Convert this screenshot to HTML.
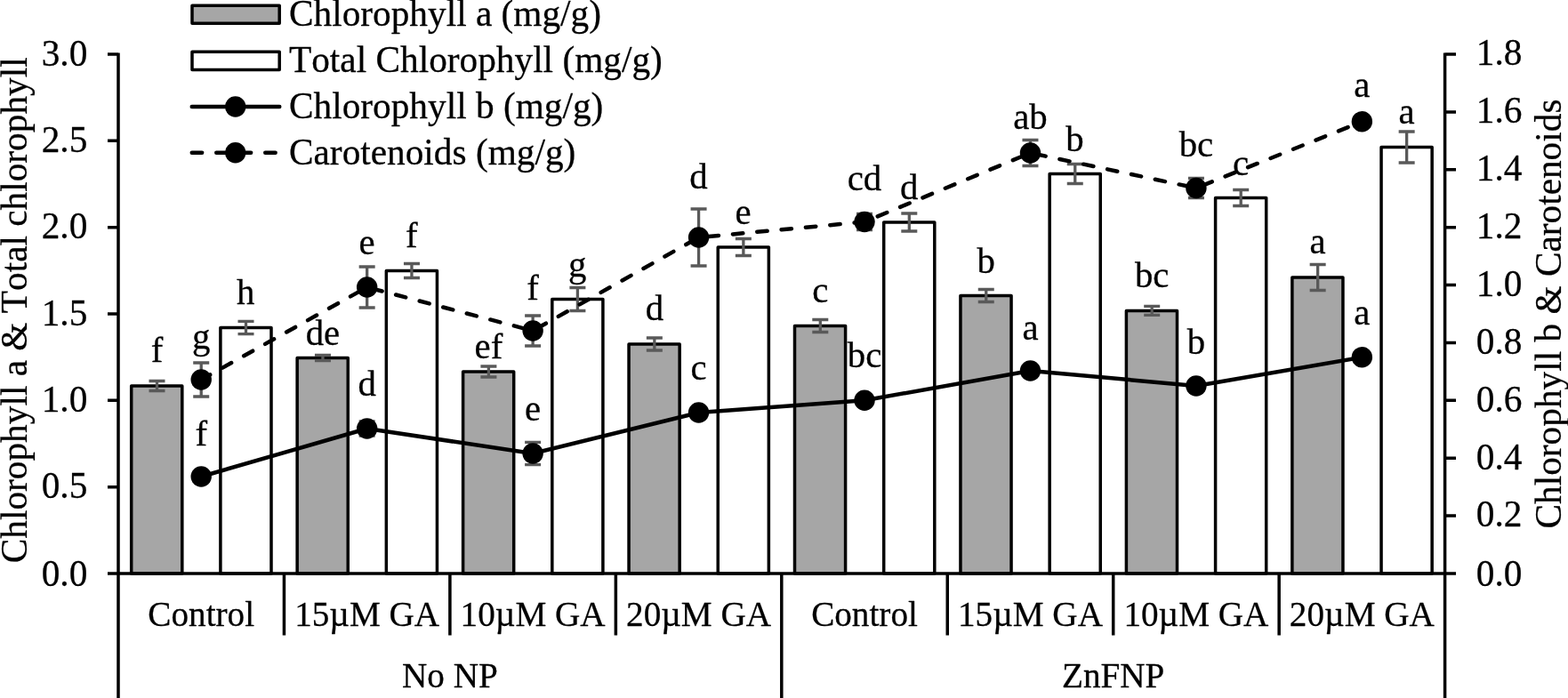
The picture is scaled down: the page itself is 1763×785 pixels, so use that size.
<!DOCTYPE html>
<html lang="en"><head><meta charset="utf-8"><title>Chlorophyll chart</title>
<style>html,body{margin:0;padding:0;background:#fff;overflow:hidden}svg{display:block}text{stroke:#000;stroke-width:0.28px;stroke-linejoin:round;font-kerning:none;font-variant-ligatures:none}</style>
</head><body>
<svg width="1763" height="785" viewBox="0 0 1763 785" font-family="'Liberation Serif', 'DejaVu Serif', serif" font-size="41.3" fill="#000">
<rect width="1763" height="785" fill="#fff"/>
<g stroke="#000" stroke-width="3.5" stroke-linejoin="round">
<rect x="147.70" y="434" width="57.10" height="211.00" fill="#a6a6a6"/>
<rect x="247.90" y="368.5" width="57.10" height="276.50" fill="#fff"/>
<rect x="334.15" y="402.5" width="57.10" height="242.50" fill="#a6a6a6"/>
<rect x="434.35" y="304.5" width="57.10" height="340.50" fill="#fff"/>
<rect x="520.60" y="418" width="57.10" height="227.00" fill="#a6a6a6"/>
<rect x="620.80" y="336.5" width="57.10" height="308.50" fill="#fff"/>
<rect x="707.05" y="387" width="57.10" height="258.00" fill="#a6a6a6"/>
<rect x="807.25" y="278" width="57.10" height="367.00" fill="#fff"/>
<rect x="893.50" y="366.5" width="57.10" height="278.50" fill="#a6a6a6"/>
<rect x="993.70" y="250" width="57.10" height="395.00" fill="#fff"/>
<rect x="1079.95" y="332.5" width="57.10" height="312.50" fill="#a6a6a6"/>
<rect x="1180.15" y="195.5" width="57.10" height="449.50" fill="#fff"/>
<rect x="1266.40" y="349.4" width="57.10" height="295.60" fill="#a6a6a6"/>
<rect x="1366.60" y="222.5" width="57.10" height="422.50" fill="#fff"/>
<rect x="1452.85" y="312" width="57.10" height="333.00" fill="#a6a6a6"/>
<rect x="1553.05" y="165.5" width="57.10" height="479.50" fill="#fff"/>
</g>
<path d="M176.50 428.50V439.50M167.50 428.50H185.50M167.50 439.50H185.50M276.50 361.30V375.70M267.50 361.30H285.50M267.50 375.70H285.50M226.22 408.00V446.00M217.22 408.00H235.22M217.22 446.00H235.22M362.95 399.50V405.50M353.95 399.50H371.95M353.95 405.50H371.95M462.95 296.50V312.50M453.95 296.50H471.95M453.95 312.50H471.95M412.67 474.00V490.00M403.67 474.00H421.67M403.67 490.00H421.67M412.67 300.00V346.00M403.67 300.00H421.67M403.67 346.00H421.67M549.40 412.00V424.00M540.40 412.00H558.40M540.40 424.00H558.40M649.40 323.50V349.50M640.40 323.50H658.40M640.40 349.50H658.40M599.12 497.40V522.60M590.12 497.40H608.12M590.12 522.60H608.12M599.12 355.00V389.00M590.12 355.00H608.12M590.12 389.00H608.12M735.85 380.00V394.00M726.85 380.00H744.85M726.85 394.00H744.85M835.85 268.50V287.50M826.85 268.50H844.85M826.85 287.50H844.85M785.57 235.00V299.00M776.57 235.00H794.57M776.57 299.00H794.57M922.30 359.50V373.50M913.30 359.50H931.30M913.30 373.50H931.30M1022.30 240.00V260.00M1013.30 240.00H1031.30M1013.30 260.00H1031.30M972.02 240.50V258.50M963.02 240.50H981.02M963.02 258.50H981.02M1108.75 325.50V339.50M1099.75 325.50H1117.75M1099.75 339.50H1117.75M1208.75 184.50V206.50M1199.75 184.50H1217.75M1199.75 206.50H1217.75M1158.47 157.50V186.50M1149.47 157.50H1167.47M1149.47 186.50H1167.47M1295.20 344.40V354.40M1286.20 344.40H1304.20M1286.20 354.40H1304.20M1395.20 213.50V231.50M1386.20 213.50H1404.20M1386.20 231.50H1404.20M1344.92 200.50V222.50M1335.92 200.50H1353.92M1335.92 222.50H1353.92M1481.65 297.50V326.50M1472.65 297.50H1490.65M1472.65 326.50H1490.65M1581.65 148.00V183.00M1572.65 148.00H1590.65M1572.65 183.00H1590.65" fill="none" stroke="#595959" stroke-width="3.3"/>
<polyline points="226.22,536 412.67,482 599.12,510 785.57,464 972.02,450.3 1158.47,417 1344.92,434 1531.37,401.8" fill="none" stroke="#000" stroke-width="4.5" stroke-linejoin="round" stroke-linecap="round"/>
<polyline points="226.22,427 412.67,323 599.12,372 785.57,267 972.02,249.5 1158.47,172 1344.92,211.5 1531.37,136.8" fill="none" stroke="#000" stroke-width="4.5" stroke-dasharray="11.4 16.05" stroke-linejoin="round" stroke-linecap="round"/>
<circle cx="226.22" cy="536" r="11.7"/>
<circle cx="226.22" cy="427" r="11.7"/>
<circle cx="412.67" cy="482" r="11.7"/>
<circle cx="412.67" cy="323" r="11.7"/>
<circle cx="599.12" cy="510" r="11.7"/>
<circle cx="599.12" cy="372" r="11.7"/>
<circle cx="785.57" cy="464" r="11.7"/>
<circle cx="785.57" cy="267" r="11.7"/>
<circle cx="972.02" cy="450.3" r="11.7"/>
<circle cx="972.02" cy="249.5" r="11.7"/>
<circle cx="1158.47" cy="417" r="11.7"/>
<circle cx="1158.47" cy="172" r="11.7"/>
<circle cx="1344.92" cy="434" r="11.7"/>
<circle cx="1344.92" cy="211.5" r="11.7"/>
<circle cx="1531.37" cy="401.8" r="11.7"/>
<circle cx="1531.37" cy="136.8" r="11.7"/>
<path d="M133.0 59.5V785M1624.6 59.5V785M121.0 645.0H1637.0M121.0 547.67H133.0M121.0 450.33H133.0M121.0 353.00H133.0M121.0 255.67H133.0M121.0 158.33H133.0M121.0 61.00H133.0M1624.6 580.11H1637.0M1624.6 515.22H1637.0M1624.6 450.33H1637.0M1624.6 385.44H1637.0M1624.6 320.56H1637.0M1624.6 255.67H1637.0M1624.6 190.78H1637.0M1624.6 125.89H1637.0M1624.6 61.00H1637.0M319.45 645.0V714.6M505.90 645.0V714.6M692.35 645.0V714.6M878.80 645.0V785M1065.25 645.0V714.6M1251.70 645.0V714.6M1438.15 645.0V714.6" fill="none" stroke="#000" stroke-width="3.5"/>
<text x="98.3" y="658.50" text-anchor="end">0.0</text>
<text x="98.3" y="560.37" text-anchor="end">0.5</text>
<text x="98.3" y="463.03" text-anchor="end">1.0</text>
<text x="98.3" y="365.70" text-anchor="end">1.5</text>
<text x="98.3" y="268.37" text-anchor="end">2.0</text>
<text x="98.3" y="171.03" text-anchor="end">2.5</text>
<text x="98.3" y="73.70" text-anchor="end">3.0</text>
<text x="1659.8" y="658.50">0.0</text>
<text x="1659.8" y="592.41">0.2</text>
<text x="1659.8" y="527.52">0.4</text>
<text x="1659.8" y="462.63">0.6</text>
<text x="1659.8" y="397.74">0.8</text>
<text x="1659.8" y="332.86">1.0</text>
<text x="1659.8" y="267.97">1.2</text>
<text x="1659.8" y="203.08">1.4</text>
<text x="1659.8" y="138.19">1.6</text>
<text x="1659.8" y="73.30">1.8</text>
<text x="226.22" y="703.7" text-anchor="middle" font-size="39.2">Control</text>
<text x="412.67" y="703.7" text-anchor="middle" font-size="39.2">15µM GA</text>
<text x="599.12" y="703.7" text-anchor="middle" font-size="39.2">10µM GA</text>
<text x="785.57" y="703.7" text-anchor="middle" font-size="39.2">20µM GA</text>
<text x="972.02" y="703.7" text-anchor="middle" font-size="39.2">Control</text>
<text x="1158.47" y="703.7" text-anchor="middle" font-size="39.2">15µM GA</text>
<text x="1344.92" y="703.7" text-anchor="middle" font-size="39.2">10µM GA</text>
<text x="1531.37" y="703.7" text-anchor="middle" font-size="39.2">20µM GA</text>
<text x="505.90" y="773.2" text-anchor="middle" font-size="39.2">No NP</text>
<text x="1251.70" y="772.8" text-anchor="middle" font-size="39.2">ZnFNP</text>
<text transform="translate(29.6,348.8) rotate(-90)" text-anchor="middle">Chlorophyll a &amp; Total chlorophyll</text>
<text transform="translate(1754.6,353) rotate(-90)" text-anchor="middle">Chlorophyll b &amp; Carotenoids</text>
<text x="176.50" y="407" text-anchor="middle" font-size="40.8">f</text>
<text x="276.30" y="341.8" text-anchor="middle" font-size="40.8">h</text>
<text x="226.22" y="500.5" text-anchor="middle" font-size="40.8">f</text>
<text x="226.22" y="391.5" text-anchor="middle" font-size="40.8">g</text>
<text x="362.95" y="387.5" text-anchor="middle" font-size="40.8">de</text>
<text x="462.75" y="278" text-anchor="middle" font-size="40.8">f</text>
<text x="412.67" y="445" text-anchor="middle" font-size="40.8">d</text>
<text x="412.67" y="286" text-anchor="middle" font-size="40.8">e</text>
<text x="549.40" y="403" text-anchor="middle" font-size="40.8">ef</text>
<text x="649.20" y="310.5" text-anchor="middle" font-size="40.8">g</text>
<text x="599.12" y="473" text-anchor="middle" font-size="40.8">e</text>
<text x="599.12" y="336.5" text-anchor="middle" font-size="40.8">f</text>
<text x="735.85" y="360" text-anchor="middle" font-size="40.8">d</text>
<text x="835.65" y="252" text-anchor="middle" font-size="40.8">e</text>
<text x="785.57" y="427" text-anchor="middle" font-size="40.8">c</text>
<text x="785.57" y="212" text-anchor="middle" font-size="40.8">d</text>
<text x="922.30" y="340" text-anchor="middle" font-size="40.8">c</text>
<text x="1022.10" y="224" text-anchor="middle" font-size="40.8">d</text>
<text x="972.02" y="413" text-anchor="middle" font-size="40.8">bc</text>
<text x="972.02" y="213.5" text-anchor="middle" font-size="40.8">cd</text>
<text x="1108.75" y="307" text-anchor="middle" font-size="40.8">b</text>
<text x="1208.55" y="170" text-anchor="middle" font-size="40.8">b</text>
<text x="1158.47" y="382" text-anchor="middle" font-size="40.8">a</text>
<text x="1158.47" y="144.5" text-anchor="middle" font-size="40.8">ab</text>
<text x="1295.20" y="323" text-anchor="middle" font-size="40.8">bc</text>
<text x="1395.00" y="197" text-anchor="middle" font-size="40.8">c</text>
<text x="1344.92" y="398" text-anchor="middle" font-size="40.8">b</text>
<text x="1344.92" y="175.5" text-anchor="middle" font-size="40.8">bc</text>
<text x="1481.65" y="285" text-anchor="middle" font-size="40.8">a</text>
<text x="1581.45" y="139" text-anchor="middle" font-size="40.8">a</text>
<text x="1531.37" y="365" text-anchor="middle" font-size="40.8">a</text>
<text x="1531.37" y="109" text-anchor="middle" font-size="40.8">a</text>
<rect x="216" y="6.3" width="98.2" height="20" fill="#a6a6a6" stroke="#000" stroke-width="3.5" stroke-linejoin="round"/>
<rect x="216" y="58.2" width="98.2" height="20.2" fill="#fff" stroke="#000" stroke-width="3.5" stroke-linejoin="round"/>
<path d="M215.75 120H314.25" stroke="#000" stroke-width="4.5" stroke-linecap="round"/>
<path d="M215.75 171.7H314.25" stroke="#000" stroke-width="4.5" stroke-dasharray="11.4 16.1" stroke-linecap="round"/>
<circle cx="264.7" cy="120" r="11.7"/><circle cx="264.7" cy="171.7" r="11.7"/>
<text x="325" y="29.00">Chlorophyll a (mg/g)</text>
<text x="325" y="81.10">Total Chlorophyll (mg/g)</text>
<text x="325" y="133.20">Chlorophyll b (mg/g)</text>
<text x="325" y="185.30">Carotenoids (mg/g)</text>
</svg>
</body></html>
